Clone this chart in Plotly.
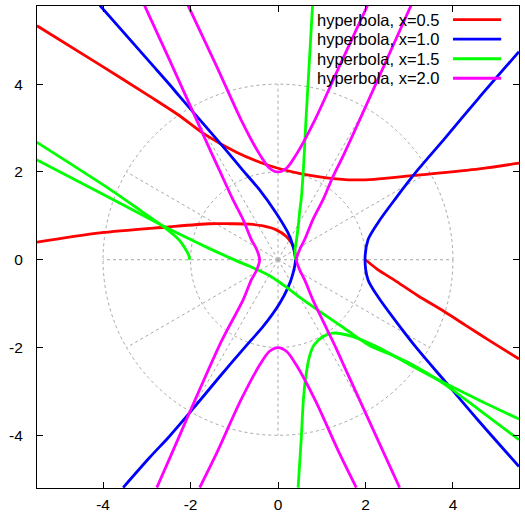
import math
import plotly.graph_objects as go

# ---------------- data ----------------
# red  ("hyperbola, x=0.5")
red_1_x = [-5.51, -4.07, -2.59, -1.56, -1.10, -0.65, -0.34, -0.04, 0.19, 0.31, 0.38, 0.40]
red_1_y = [0.40, 0.61, 0.74, 0.82, 0.82, 0.81, 0.77, 0.68, 0.53, 0.38, 0.19, 0.00]
red_2_x = [-5.51, -4.07, -2.93, -2.25, -1.71, -0.95, -0.19, 0.57, 1.33, 1.60, 2.20, 3.12, 4.60, 5.51]
red_2_y = [5.33, 4.44, 3.72, 3.28, 2.88, 2.45, 2.14, 1.95, 1.84, 1.82, 1.83, 1.92, 2.07, 2.20]
red_3_x = [2.00, 2.25, 2.67, 3.20, 3.80, 4.30, 4.80, 5.51]
red_3_y = [0.00, -0.20, -0.47, -0.82, -1.18, -1.50, -1.82, -2.26]

# blue ("hyperbola, x=1.0")
blue_1_x = [-4.07, -2.93, -2.47, -2.25, -1.71, -1.15, -0.84, -0.42, -0.04, 0.23, 0.34, 0.40,
            0.34, 0.23, 0.04, -0.34, -0.72, -1.33, -2.09, -2.48, -2.93, -3.54]
blue_1_y = [5.79, 4.50, 3.98, 3.72, 3.10, 2.45, 2.08, 1.59, 1.06, 0.61, 0.32, 0.00,
            -0.32, -0.63, -0.99, -1.52, -1.95, -2.66, -3.57, -4.02, -4.50, -5.19]
blue_2_x = [5.51, 4.57, 3.81, 3.20, 2.67, 2.29, 2.06, 1.99, 2.06, 2.29, 2.67, 3.20, 3.81, 4.57, 5.51]
blue_2_y = [4.74, 3.66, 2.76, 2.05, 1.37, 0.85, 0.46, 0.00, -0.46, -0.85, -1.37, -2.05, -2.76, -3.65, -4.71]

# green ("hyperbola, x=1.5")
green_1_x = [0.40, 0.39, 0.43, 0.47, 0.50, 0.53, 0.58, 0.64, 0.71, 0.79]
green_1_y = [0.00, 0.23, 0.50, 0.84, 1.14, 1.37, 2.05, 3.20, 4.40, 5.79]
green_2_x = [0.46, 0.53, 0.58, 0.63, 0.72, 0.82, 1.03, 1.26, 1.71, 2.32, 3.01, 3.81, 4.60, 5.51]
green_2_y = [-5.19, -4.10, -3.20, -2.70, -2.20, -1.95, -1.75, -1.67, -1.75, -2.01, -2.39, -2.81, -3.20, -3.63]
green_3_x = [-5.52, -3.85, -3.14, -2.59, -2.27, -2.12, -2.04, -2.02]
green_3_y = [2.68, 1.61, 1.12, 0.73, 0.46, 0.25, 0.10, 0.00]
green_4_x = [-5.52, -3.85, -2.59, -1.60, -1.05, -0.65, -0.42, -0.20, 0.00, 0.20, 0.50, 0.91,
             1.50, 2.10, 2.60, 3.01, 3.81, 4.60, 5.51]
green_4_y = [2.28, 1.41, 0.75, 0.27, 0.02, -0.15, -0.25, -0.36, -0.49, -0.63, -0.86, -1.15,
             -1.55, -1.96, -2.17, -2.36, -2.84, -3.42, -4.10]

# magenta ("hyperbola, x=2.0")
magenta_1_x = [3.05, 1.52, 1.26, 1.03, 0.80, 0.61, 0.50, 0.42, 0.50, 0.61, 0.80, 1.03, 1.33, 1.52, 2.78]
magenta_1_y = [5.81, 2.43, 1.90, 1.37, 0.92, 0.46, 0.24, 0.00, -0.24, -0.46, -0.92, -1.40, -2.02, -2.44, -5.19]
magenta_2_x = [-3.05, -2.47, -1.52, -1.33, -1.03, -0.80, -0.61, -0.49, -0.42, -0.49, -0.61, -0.80, -1.29, -2.48, -2.77]
magenta_2_y = [5.79, 4.53, 2.43, 2.02, 1.37, 0.92, 0.46, 0.24, 0.00, -0.24, -0.46, -0.92, -1.85, -4.53, -5.19]
magenta_3_x = [-2.06, -1.40, -0.85, -0.42, -0.20, 0.00, 0.20, 0.42, 0.85, 1.40, 2.05]
magenta_3_y = [5.80, 4.40, 3.20, 2.40, 2.09, 2.00, 2.09, 2.40, 3.20, 4.40, 5.80]
magenta_4_x = [-1.79, -1.40, -0.85, -0.42, -0.20, 0.00, 0.20, 0.42, 0.85, 1.40, 1.79]
magenta_4_y = [-5.19, -4.40, -3.20, -2.40, -2.09, -2.00, -2.09, -2.40, -3.20, -4.40, -5.19]

series_names = ["hyperbola, x=0.5", "hyperbola, x=1.0", "hyperbola, x=1.5", "hyperbola, x=2.0"]
series_colors = ["#ff0000", "#0000ff", "#00ff00", "#ff00ff"]

tick_values = [-4, -2, 0, 2, 4]
tick_labels = ["-4", "-2", "0", "2", "4"]
grid_radii = [2, 4]
grid_angles_deg = [0, 30, 60, 90, 120, 150, 180, 210, 240, 270, 300, 330]

# ---------------- figure ----------------
pieces = [
    [(red_1_x, red_1_y), (red_2_x, red_2_y), (red_3_x, red_3_y)],
    [(blue_1_x, blue_1_y), (blue_2_x, blue_2_y)],
    [(green_1_x, green_1_y), (green_2_x, green_2_y), (green_3_x, green_3_y), (green_4_x, green_4_y)],
    [(magenta_1_x, magenta_1_y), (magenta_2_x, magenta_2_y), (magenta_3_x, magenta_3_y), (magenta_4_x, magenta_4_y)],
]

fig = go.Figure()
for color, name, segs in zip(series_colors, series_names, pieces):
    for xs, ys in segs:
        fig.add_trace(go.Scatter(
            x=xs, y=ys, mode="lines", name=name, showlegend=False, hoverinfo="skip",
            line=dict(color=color, width=2.8, shape="spline", smoothing=0.8),
        ))

FONT = "Liberation Sans, Arial, Helvetica, sans-serif"
grid_line = dict(color="#a8a8a8", width=1, dash="dot")
shapes = []
for r in grid_radii:
    shapes.append(dict(type="circle", xref="x", yref="y", x0=-r, y0=-r, x1=r, y1=r,
                       line=grid_line, layer="below"))
rmax = max(grid_radii)
for a in grid_angles_deg:
    t = math.radians(a)
    shapes.append(dict(type="line", xref="x", yref="y", x0=0, y0=0,
                       x1=rmax * math.cos(t), y1=rmax * math.sin(t),
                       line=grid_line, layer="below"))

# gnuplot-style key: text on the left, line sample on the right
annotations = []
key_top, key_step = 0.9716, 0.0405
for i, (name, color) in enumerate(zip(series_names, series_colors)):
    yk = key_top - i * key_step
    annotations.append(dict(xref="paper", yref="paper", x=0.838, y=yk, text=name,
                            showarrow=False, xanchor="right", yanchor="middle",
                            font=dict(family=FONT, size=16.5, color="black")))
    shapes.append(dict(type="line", xref="paper", yref="paper", x0=0.863, x1=0.963,
                       y0=yk, y1=yk, line=dict(color=color, width=2.8)))

axis_common = dict(
    tickvals=tick_values, ticktext=tick_labels, ticks="inside", ticklen=6, tickwidth=1,
    tickcolor="black", showline=True, linecolor="black", linewidth=1, mirror="ticks",
    showgrid=False, zeroline=False, automargin=False,
    tickfont=dict(family=FONT, size=15.5, color="black"),
)
fig.update_layout(
    width=525, height=517, autosize=False,
    margin=dict(l=37, r=6, t=6, b=29, pad=0),
    paper_bgcolor="white", plot_bgcolor="white",
    xaxis=dict(range=[-5.51, 5.51], ticklabelstandoff=2, **axis_common),
    yaxis=dict(range=[-5.2, 5.78], ticklabelstandoff=10, **axis_common),
    shapes=shapes, annotations=annotations, showlegend=False,
)

fig.write_html("out.html", config={"displayModeBar": False},
               post_script="document.body.style.margin='0';document.body.style.overflow='hidden';")
